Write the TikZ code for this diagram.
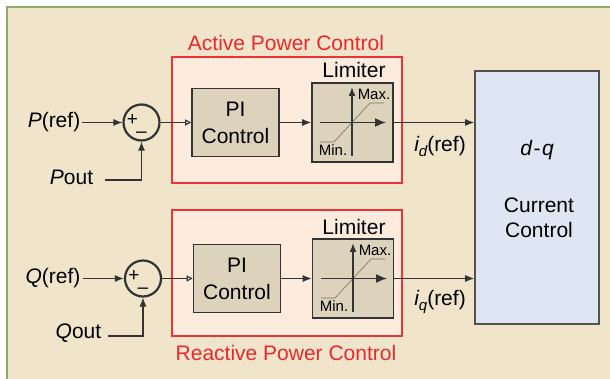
\documentclass[tikz,border=0pt]{standalone}
\usepackage{fontspec}
\setmainfont{Liberation Sans}
\usetikzlibrary{arrows.meta}
\definecolor{bgbeige}{HTML}{F0E4CA}
\definecolor{frgreen}{HTML}{8FAA64}
\definecolor{boxpink}{HTML}{FDEBDE}
\definecolor{boxred}{HTML}{EE3338}
\definecolor{txtred}{HTML}{E8282E}
\definecolor{pifill}{HTML}{DDD2BC}
\definecolor{dqfill}{HTML}{DFE6F3}
\definecolor{edge}{HTML}{333333}
\definecolor{satgray}{HTML}{7A7060}
\begin{document}
\begin{tikzpicture}[x=1pt,y=-1pt,
  font=\fontsize{21}{25}\selectfont,
  conn/.style={draw=edge, line width=1.1pt},
  arr/.style={conn, -{Latex[length=9pt,width=7pt]}},
  oarr/.style={conn, -{Triangle[length=6pt,width=6pt,fill=white]}},
  pwrbox/.style={draw=boxred, line width=1.1pt, fill=boxpink, inner sep=0pt},
  blk/.style={draw=edge, line width=1.6pt, fill=pifill, inner sep=0pt, align=center},
  dqblk/.style={draw=edge!85, line width=1.6pt, fill=dqfill, inner sep=0pt},
  sumnode/.style={circle, draw=edge, line width=2.2pt, minimum size=36pt, inner sep=0pt},
  redtitle/.style={text=txtred, inner sep=0pt},
  plain/.style={inner sep=0pt},
  signtxt/.style={inner sep=0pt, font=\fontsize{19}{19}\selectfont},
  smalltxt/.style={inner sep=0pt, font=\fontsize{15}{17}\selectfont},
  axisarr/.style={draw=edge, line width=1.5pt},
  sat/.style={draw=satgray, line width=0.6pt},
]
\useasboundingbox (0,0) rectangle (610,379);
\fill[white] (0,0) rectangle (610,379);
\fill[bgbeige] (7,7) rectangle (610,379);
\draw[frgreen, line width=2.5pt] (7,379) -- (7,7) -- (610,7);

% ---------- Active power control ----------
\node[pwrbox, minimum width=230pt, minimum height=126pt] (apc) at (287,120) {};
\node[redtitle] (apct) at (286,43) {Active Power Control};
\node[blk, minimum width=87pt, minimum height=68pt, font=\fontsize{21}{27}\selectfont] (pi1) at (235.5,122.5) {PI\\Control};
\node[blk, minimum width=81pt, minimum height=79pt] (lim1) at (352.5,122.5) {};
\node[plain] (lim1t) at (354,70) {Limiter};
\node[sumnode] (s1) at (141.5,122.5) {};
\node[signtxt] (s1p) at (132.5,120.5) {+};
\node[signtxt] (s1m) at (141.5,135) {\textendash};
\node[plain] (pref) at (54,122.5) {{\itshape P}(ref)};
\node[plain] (pout) at (71.5,177) {{\itshape P}out};
\coordinate (poutc) at (105,180);

% limiter 1 graphics
\draw[sat] (320,142) -- (334,142) -- (370,103) -- (384,103);
\draw[axisarr, -{Latex[length=11pt,width=9pt]}] (320,122.5) -- (386,122.5);
\draw[axisarr, -{Latex[length=9pt,width=7pt]}] (352,156) -- (352,87);
\node[smalltxt] (max1) at (374,94) {Max.};
\node[smalltxt] (min1) at (333,150) {Min.};

% ---------- Reactive power control ----------
\node[pwrbox, minimum width=230pt, minimum height=126pt] (rpc) at (287,273) {};
\node[redtitle] (rpct) at (286,353) {Reactive Power Control};
\node[blk, minimum width=87pt, minimum height=68pt, font=\fontsize{21}{27}\selectfont] (pi2) at (237,278.5) {PI\\Control};
\node[blk, minimum width=81pt, minimum height=79pt] (lim2) at (353,278.5) {};
\node[plain] (lim2t) at (354,227) {Limiter};
\node[sumnode] (s2) at (143,278.5) {};
\node[signtxt] (s2p) at (134,276.5) {+};
\node[signtxt] (s2m) at (143,291) {\textendash};
\node[plain] (qref) at (53,278.5) {{\itshape Q}(ref)};
\node[plain] (qout) at (78.5,333) {{\itshape Q}out};
\coordinate (qoutc) at (108,336);

% limiter 2 graphics
\draw[sat] (321,298) -- (335,298) -- (371,259) -- (385,259);
\draw[axisarr, -{Latex[length=11pt,width=9pt]}] (321,278.5) -- (387,278.5);
\draw[axisarr, -{Latex[length=9pt,width=7pt]}] (353,312) -- (353,243);
\node[smalltxt] (max2) at (375,250) {Max.};
\node[smalltxt] (min2) at (334,306) {Min.};

% ---------- d-q current control ----------
\node[dqblk, minimum width=124pt, minimum height=253pt] (dq) at (537,197.5) {};
\node[plain] (dqt) at (537,150) {{\itshape d}\kern1.5pt-\kern1.5pt{\itshape q}};
\node[plain, align=center] (cct) at (539,218) {Current\\Control};

% ---------- connectors ----------
\draw[arr] ([xshift=2pt]pref.east) -- (s1.west);
\draw[arr] (poutc) -| (s1.south);
\draw[oarr] (s1.east) -- (pi1.west);
\draw[arr] (pi1.east) -- (lim1.west);
\draw[arr] (lim1.east) -- (lim1.east -| dq.west);
\node[plain] (idl) at (440,146) {{\itshape i}\raisebox{-5pt}{\fontsize{15}{15}\selectfont\itshape d}(ref)};

\draw[arr] ([xshift=2pt]qref.east) -- (s2.west);
\draw[arr] (qoutc) -| (s2.south);
\draw[oarr] (s2.east) -- (pi2.west);
\draw[arr] (pi2.east) -- (lim2.west);
\draw[arr] (lim2.east) -- (lim2.east -| dq.west);
\node[plain] (iql) at (440,302) {{\itshape i}\raisebox{-5pt}{\fontsize{15}{15}\selectfont\itshape q}(ref)};
\end{tikzpicture}
\end{document}
